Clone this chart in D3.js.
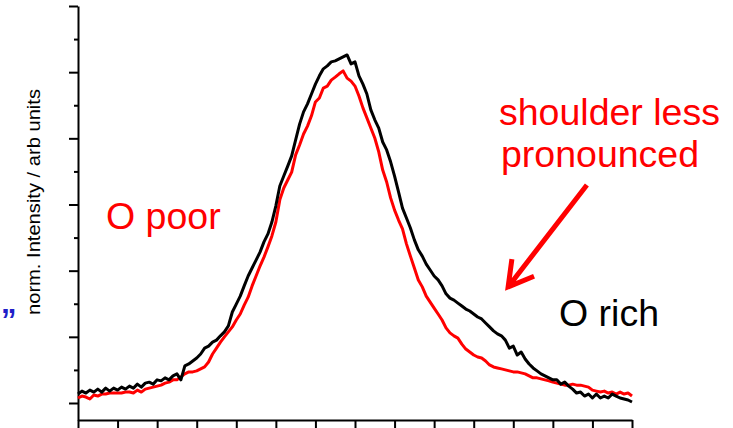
<!DOCTYPE html>
<html>
<head>
<meta charset="utf-8">
<script src="https://cdn.jsdelivr.net/npm/d3@7"></script>
<style>
  html, body { margin: 0; padding: 0; background: #fff; }
  svg { display: block; }
  text { font-family: "Liberation Sans", Arial, sans-serif; }
</style>
</head>
<body>
<script>
// ---- data (x in arbitrary channel units 0..14, sampled every 0.1; y = normalized intensity, arb units) ----
const xStep = 0.1;
const oRich = [
  0.27,0.36,0.30,0.39,0.33,0.42,0.33,0.45,0.36,0.45,
  0.39,0.48,0.42,0.51,0.45,0.57,0.48,0.60,0.63,0.57,
  0.70,0.67,0.76,0.70,0.82,0.88,0.70,1.12,1.18,1.27,
  1.36,1.48,1.66,1.72,1.84,1.90,2.03,2.15,2.33,2.75,
  2.99,3.23,3.54,3.84,4.08,4.32,4.56,4.87,5.11,5.47,
  5.96,6.56,6.86,7.16,7.47,7.95,8.43,8.80,9.04,9.34,
  9.64,9.89,10.10,10.19,10.31,10.34,10.40,10.46,10.52,10.25,
  10.31,9.89,9.64,9.34,8.86,8.56,8.31,7.89,7.65,7.29,
  6.86,6.38,5.89,5.59,5.29,4.93,4.63,4.44,4.20,4.02,
  3.84,3.72,3.54,3.30,3.17,3.11,3.02,2.93,2.84,2.78,
  2.69,2.60,2.54,2.42,2.30,2.18,2.09,2.03,1.90,1.66,
  1.72,1.45,1.54,1.33,1.18,1.06,0.97,0.88,0.82,0.76,
  0.70,0.70,0.57,0.63,0.51,0.42,0.30,0.33,0.21,0.27,
  0.15,0.27,0.15,0.21,0.15,0.27,0.21,0.15,0.12,0.09,
  0.03
];
const oPoor = [
  0.15,0.21,0.18,0.12,0.24,0.21,0.27,0.27,0.30,0.30,
  0.30,0.30,0.33,0.33,0.30,0.39,0.33,0.42,0.45,0.48,
  0.51,0.54,0.60,0.63,0.70,0.70,0.79,0.88,0.94,0.94,
  0.97,1.03,1.09,1.24,1.48,1.66,1.84,2.00,2.15,2.30,
  2.51,2.69,2.96,3.20,3.54,3.84,4.14,4.41,4.72,5.05,
  5.47,6.14,6.50,6.74,6.98,7.50,7.80,8.13,8.37,8.68,
  9.10,9.22,9.52,9.58,9.76,9.85,9.95,10.04,9.82,9.73,
  9.58,9.28,8.92,8.62,8.31,8.01,7.59,7.04,6.68,6.20,
  5.83,5.53,5.26,4.81,4.44,4.08,3.72,3.51,3.23,3.05,
  2.87,2.69,2.51,2.27,2.12,2.03,1.96,1.78,1.63,1.54,
  1.45,1.39,1.36,1.27,1.15,1.09,1.06,1.03,1.00,0.97,
  0.94,0.94,0.91,0.88,0.82,0.76,0.76,0.73,0.70,0.67,
  0.63,0.60,0.57,0.54,0.54,0.57,0.54,0.54,0.51,0.48,
  0.39,0.36,0.33,0.36,0.30,0.33,0.27,0.33,0.27,0.30,
  0.21
];
const xTicks = d3.range(0, 15);          // 0..14, unlabeled
const yTicksMajor = [0, 2, 4, 6, 8, 10, 12];
const yTicksMinor = [1, 3, 5, 7, 9, 11];
const labels = {
  yAxis: "norm. Intensity / arb units",
  poor: "O poor",
  rich: "O rich",
  note1: "shoulder less",
  note2: "pronounced"
};
// arrow annotation (data coords): start -> tip
const arrowStart = [12.86, 6.59];
const arrowTip = [10.87, 3.51];

// ---- drawing ----
const W = 733, H = 428;
const svg = d3.select("body").append("svg").attr("width", W).attr("height", H);

const x = d3.scaleLinear().domain([0, 14]).range([78, 632]);
const y = d3.scaleLinear().domain([-0.514, 12]).range([420, 6]);

// axes
svg.append("g").attr("transform", "translate(0,420)")
  .call(d3.axisBottom(x).tickValues(xTicks).tickSize(9).tickSizeOuter(0).tickFormat(""));
svg.append("g").attr("transform", "translate(78,0)")
  .call(d3.axisLeft(y).tickValues(yTicksMajor).tickSize(9).tickSizeOuter(0).tickFormat(""));
const gyMin = svg.append("g").attr("transform", "translate(78,0)")
  .call(d3.axisLeft(y).tickValues(yTicksMinor).tickSize(4).tickSizeOuter(0).tickFormat(""));
gyMin.select(".domain").remove();
svg.selectAll(".domain, .tick line").attr("stroke", "#000").attr("stroke-width", 2);

// lines
const line = d3.line().x((d, i) => x(i * xStep)).y(d => y(d));
svg.append("path").datum(oPoor).attr("d", line)
  .attr("fill", "none").attr("stroke", "#ff0000").attr("stroke-width", 3)
  .attr("stroke-linejoin", "round");
svg.append("path").datum(oRich).attr("d", line)
  .attr("fill", "none").attr("stroke", "#000000").attr("stroke-width", 3)
  .attr("stroke-linejoin", "round");

// y label
svg.append("text")
  .attr("transform", "translate(40,202) rotate(-90)")
  .attr("text-anchor", "middle")
  .attr("font-size", 19)
  .attr("textLength", 226).attr("lengthAdjust", "spacingAndGlyphs")
  .attr("fill", "#000")
  .text(labels.yAxis);

// stray blue mark at left edge
svg.append("text").attr("x", 1).attr("y", 331)
  .attr("font-size", 31).attr("font-weight", "bold").attr("fill", "#1f1fc8")
  .text("\u201D");

// annotations
svg.append("text").attr("x", 106).attr("y", 229).attr("font-size", 37.5)
  .attr("fill", "#ff0000").text(labels.poor);
svg.append("text").attr("x", 499).attr("y", 125).attr("font-size", 37.5)
  .attr("fill", "#ff0000").text(labels.note1);
svg.append("text").attr("x", 501).attr("y", 167).attr("font-size", 37.5)
  .attr("fill", "#ff0000").text(labels.note2);
svg.append("text").attr("x", 559).attr("y", 326).attr("font-size", 37.5)
  .attr("fill", "#000").text(labels.rich);

// arrow
const sx = x(arrowStart[0]), sy = y(arrowStart[1]);
const tx = x(arrowTip[0]), ty = y(arrowTip[1]);
const ang = Math.atan2(sy - ty, sx - tx);
const headLen = 28, spread = Math.PI / 6;
const h1 = [tx + headLen * Math.cos(ang - spread), ty + headLen * Math.sin(ang - spread)];
const h2 = [tx + headLen * Math.cos(ang + spread), ty + headLen * Math.sin(ang + spread)];
svg.append("path")
  .attr("d", `M${sx},${sy}L${tx},${ty}M${h1[0]},${h1[1]}L${tx},${ty}L${h2[0]},${h2[1]}`)
  .attr("fill", "none").attr("stroke", "#ff0000").attr("stroke-width", 5)
  .attr("stroke-linecap", "butt").attr("stroke-linejoin", "miter");
</script>
</body>
</html>
